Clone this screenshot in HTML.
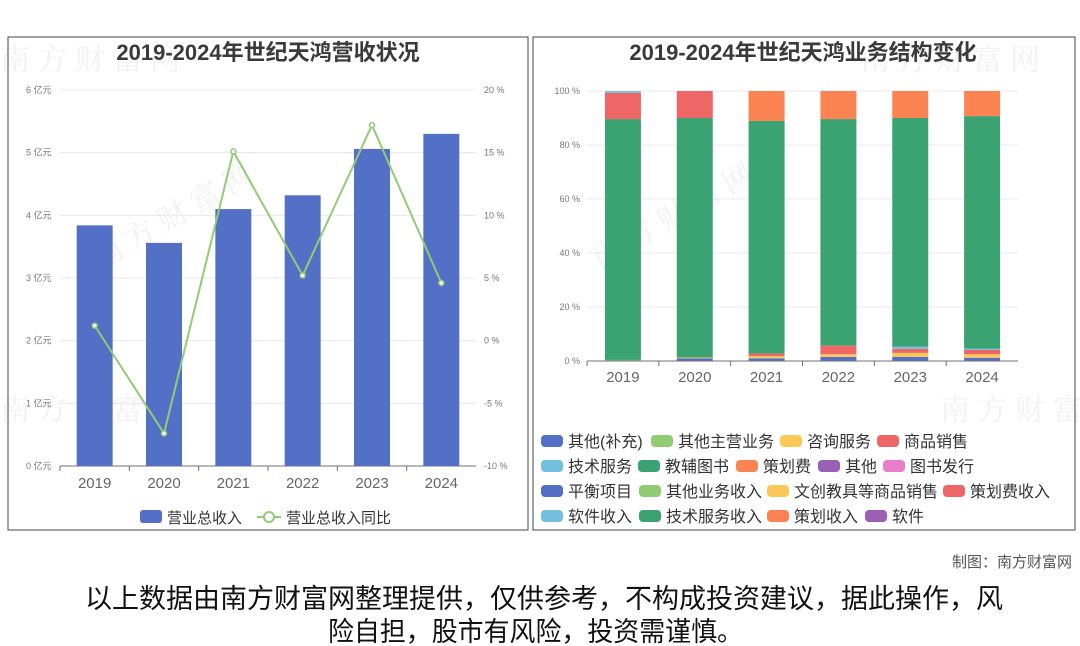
<!DOCTYPE html>
<html><head><meta charset="utf-8"><style>
body{margin:0;background:#fff;width:1080px;height:646px;overflow:hidden;font-family:"Liberation Sans","Noto Sans CJK SC",sans-serif}
svg{position:absolute;left:0;top:0}
</style></head><body>
<svg width="1080" height="646">
<g id="wm" fill="#f2f2f2" font-size="30" font-family="Liberation Serif,Noto Serif CJK SC,serif">
<text x="0" y="70">南 方 财 富 网</text><text x="860" y="70">南 方 财 富 网</text>
<text x="600" y="270" transform="rotate(-30 600 270)">南 方 财 富 网</text>
<text x="100" y="270" transform="rotate(-30 100 270)">南 方 财 富 网</text>
<text x="0" y="420">南 方 财 富 网</text><text x="940" y="420">南 方 财 富 网</text>
</g>
<rect x="8" y="37" width="520" height="493" fill="none" stroke="#444"/>
<rect x="533" y="37" width="542" height="493" fill="none" stroke="#444"/>
<text x="268" y="60" text-anchor="middle" font-size="22" font-weight="bold" fill="#3a3a3a">2019-2024年世纪天鸿营收状况</text>
<text x="803" y="60" text-anchor="middle" font-size="22" font-weight="bold" fill="#3a3a3a">2019-2024年世纪天鸿业务结构变化</text>
<g id="left"></g><g id="right"></g>
<text x="1072" y="567" text-anchor="end" font-size="15" fill="#555">制图：南方财富网</text>
<text x="85" y="608" textLength="918" lengthAdjust="spacingAndGlyphs" font-size="27" fill="#111">以上数据由南方财富网整理提供，仅供参考，不构成投资建议，据此操作，风</text>
<text x="328" y="641" textLength="415" lengthAdjust="spacingAndGlyphs" font-size="27" fill="#111">险自担，股市有风险，投资需谨慎。</text>
</svg>
<script>
const years=['2019','2020','2021','2022','2023','2024'];
const revenue=[3.84,3.56,4.10,4.32,5.06,5.30];
const growth=[1.2,-7.4,15.1,5.2,17.2,4.6];
const leftTicks=['0 亿元','1 亿元','2 亿元','3 亿元','4 亿元','5 亿元','6 亿元'];
const rightTicks=['-10 %','-5 %','0 %','5 %','10 %','15 %','20 %'];
const seriesNames=['其他(补充)','其他主营业务','咨询服务','商品销售','技术服务','教辅图书','策划费','其他','图书发行','平衡项目','其他业务收入','文创教具等商品销售','策划费收入','软件收入','技术服务收入','策划收入','软件'];
const stackOrder=['其他(补充)','其他主营业务','咨询服务','商品销售','技术服务','教辅图书','策划费','策划费收入','软件收入'];
const shares={
 '其他(补充)':[0,1.0,1.0,1.5,1.5,1.2],
 '其他主营业务':[0.4,0,0,0,0,0],
 '咨询服务':[0,0.3,0.8,1.0,1.5,1.3],
 '商品销售':[0,0,1.0,3.2,1.5,1.6],
 '技术服务':[0,0,0,0,0.8,0.5],
 '教辅图书':[89.2,88.7,86.1,83.9,84.7,86.1],
 '策划费':[0,0,11.1,10.4,10.0,9.3],
 '策划费收入':[9.7,10.0,0,0,0,0],
 '软件收入':[0.7,0,0,0,0,0]
};
const colors=['#5470c6','#91cc75','#fac858','#ee6666','#73c0de','#3ba272','#fc8452','#9a60b4','#ea7ccc'];
const NS='http://www.w3.org/2000/svg';
function mk(p,t,a){const e=document.createElementNS(NS,t);for(const k in a)e.setAttribute(k,a[k]);p.appendChild(e);return e;}
const L=document.getElementById('left');
const lx0=60,lx1=476,ly0=466,ly1=90;
const yL=v=>ly0-(v/6)*(ly0-ly1);
const yR=v=>ly0-((v+10)/30)*(ly0-ly1);
const bw=(lx1-lx0)/years.length;
const xc=i=>lx0+bw*(i+0.5);
leftTicks.forEach((t,i)=>{const y=ly0-i*(ly0-ly1)/6;
 if(i>0){const g=mk(L,'line',{x1:lx0,x2:lx1,y1:y,y2:y,stroke:'#e6e8f2'});}
 const a=mk(L,'text',{x:26,y:y+3,'font-size':9,fill:'#777'});a.textContent=t;
 const b=mk(L,'text',{x:484,y:y+3,'font-size':9,fill:'#777'});b.textContent=rightTicks[i];
});
const la=mk(L,'line',{x1:lx0,x2:lx1,y1:ly0,y2:ly0,stroke:'#6e7079'});
years.forEach((yr,i)=>{
 const r=mk(L,'rect',{x:xc(i)-18,y:yL(revenue[i]),width:36,height:ly0-yL(revenue[i]),fill:'#5470c6'});
 
 const t=mk(L,'text',{x:xc(i),y:488,'text-anchor':'middle','font-size':15,fill:'#666'});t.textContent=yr;
 
 const k=mk(L,'line',{x1:lx0+bw*i,x2:lx0+bw*i,y1:ly0,y2:ly0+5,stroke:'#6e7079'});
});
const pl=mk(L,'polyline',{points:growth.map((v,i)=>xc(i)+','+yR(v)).join(' '),fill:'none',stroke:'#91cc75','stroke-width':2});

growth.forEach((v,i)=>{const c=mk(L,'circle',{cx:xc(i),cy:yR(v),r:2.5,fill:'#fff',stroke:'#91cc75','stroke-width':1.5});});
const lg1=mk(L,'rect',{x:140,y:510,width:22,height:13,rx:3,fill:'#5470c6'});
const lt1=mk(L,'text',{x:167,y:523,'font-size':15,fill:'#333'});lt1.textContent='营业总收入';
const lg2=mk(L,'line',{x1:257,x2:281,y1:517,y2:517,stroke:'#91cc75','stroke-width':2});
const lg3=mk(L,'circle',{cx:269,cy:517,r:5,fill:'#fff',stroke:'#91cc75','stroke-width':2});
const lt2=mk(L,'text',{x:286,y:523,'font-size':15,fill:'#333'});lt2.textContent='营业总收入同比';
const R=document.getElementById('right');
const rx0=587,rx1=1018,ry0=361,ry1=91;
const yP=v=>ry0-(v/100)*(ry0-ry1);
const rbw=(rx1-rx0)/years.length;const rxc=i=>rx0+rbw*(i+0.5);
[0,20,40,60,80,100].forEach(v=>{const y=yP(v);
 if(v>0){const g=mk(R,'line',{x1:rx0,x2:rx1,y1:y,y2:y,stroke:'#e6e8f2'});}
 const t=mk(R,'text',{x:580,y:y+3,'text-anchor':'end','font-size':9,fill:'#777'});t.textContent=v+' %';
});
years.forEach((yr,i)=>{let acc=0;
 stackOrder.forEach(n=>{const v=shares[n][i];if(!v)return;const ci=seriesNames.indexOf(n)%9;
  const r=mk(R,'rect',{x:rxc(i)-18,y:yP(acc+v),width:36,height:yP(acc)-yP(acc+v),fill:colors[ci]});
  acc+=v;});
 const t=mk(R,'text',{x:rxc(i),y:382,'text-anchor':'middle','font-size':15,fill:'#666'});t.textContent=yr;
 const k=mk(R,'line',{x1:rx0+rbw*i,x2:rx0+rbw*i,y1:ry0,y2:ry0+5,stroke:'#6e7079'});
});
const ra=mk(R,'line',{x1:rx0,x2:rx1,y1:ry0,y2:ry0,stroke:'#6e7079'});
const legX=[541,651,780,877, 541,638,736,818,883, 541,639,767,943, 541,639,767,865];
const legRow=[0,0,0,0,1,1,1,1,1,2,2,2,2,3,3,3,3];
seriesNames.forEach((n,i)=>{const y=441+legRow[i]*25;
 const r=mk(R,'rect',{x:legX[i],y:y-6,width:22,height:12,rx:4,fill:colors[i%9]});
 const t=mk(R,'text',{x:legX[i]+27,y:y+6,'font-size':16,fill:'#333'});t.textContent=n;
});
</script>
</body></html>
